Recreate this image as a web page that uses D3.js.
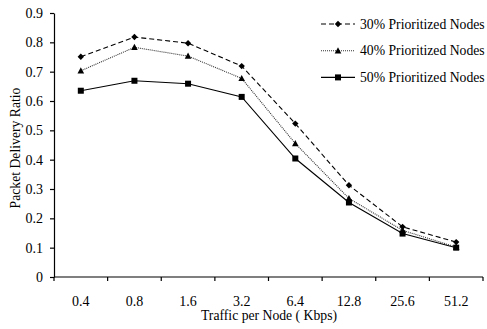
<!DOCTYPE html>
<html>
<head>
<meta charset="utf-8">
<script src="https://cdn.jsdelivr.net/npm/d3@7"></script>
<style>
  html, body { margin: 0; padding: 0; background: #fff; }
  svg { display: block; }
  text { font-family: "Liberation Serif", "Times New Roman", serif; fill: #000; }
</style>
</head>
<body>
<svg id="chart" width="487" height="329"></svg>
<script>
// Traffic load categories (Kbps)
const categories = ["0.4", "0.8", "1.6", "3.2", "6.4", "12.8", "25.6", "51.2"];

// Packet delivery ratio per prioritisation level
const pdr30 = [0.751, 0.818, 0.797, 0.719, 0.523, 0.313, 0.171, 0.119];
const pdr40 = [0.703, 0.783, 0.753, 0.677, 0.455, 0.268, 0.159, 0.102];
const pdr50 = [0.635, 0.669, 0.659, 0.614, 0.404, 0.254, 0.148, 0.100];

const seriesNames = ["30% Prioritized Nodes", "40% Prioritized Nodes", "50% Prioritized Nodes"];
const yTicks = [0, 0.1, 0.2, 0.3, 0.4, 0.5, 0.6, 0.7, 0.8, 0.9];

const series = [
  { name: seriesNames[0], values: pdr30, dash: "5,3", color: "#000", marker: "diamond" },
  { name: seriesNames[1], values: pdr40, dash: "1,1", color: "#333", marker: "triangle" },
  { name: seriesNames[2], values: pdr50, dash: null, color: "#000", marker: "square" }
];

const svg = d3.select("#chart");
const plotL = 54, plotR = 483, plotT = 13, plotB = 277;

const x = d3.scaleBand().domain(categories).range([plotL, plotR]).paddingInner(0).paddingOuter(0);
const y = d3.scaleLinear().domain([0, 0.9]).range([plotB, plotT]);

// Y axis
const yAxis = svg.append("g")
  .attr("transform", `translate(${plotL},0)`)
  .call(d3.axisLeft(y).tickValues(yTicks).tickSize(4).tickSizeOuter(0)
    .tickFormat(d => d === 0 ? "0" : d3.format(".1f")(d)));
yAxis.selectAll("path, line").attr("stroke", "#000").attr("stroke-width", 1.2);
yAxis.selectAll("text").attr("font-size", 14).attr("font-family", "Liberation Serif").attr("x", -11);

// X axis: tick marks at category boundaries, labels centred in each band
const bounds = categories.map(c => x(c)).concat([x(categories[categories.length - 1]) + x.bandwidth()]);
const xAxis = svg.append("g");
xAxis.append("line")
  .attr("x1", plotL).attr("x2", plotR).attr("y1", plotB).attr("y2", plotB)
  .attr("stroke", "#000").attr("stroke-width", 1.2);
xAxis.selectAll("line.tick").data(bounds).join("line")
  .attr("class", "tick")
  .attr("x1", d => d).attr("x2", d => d)
  .attr("y1", plotB).attr("y2", plotB + 4)
  .attr("stroke", "#000").attr("stroke-width", 1.2);
xAxis.selectAll("text").data(categories).join("text")
  .attr("x", d => x(d) + x.bandwidth() / 2)
  .attr("y", 306)
  .attr("text-anchor", "middle")
  .attr("font-size", 14)
  .text(d => d);

// Axis titles
svg.append("text")
  .attr("x", 269).attr("y", 320)
  .attr("text-anchor", "middle")
  .attr("font-size", 13.7)
  .text("Traffic per Node ( Kbps)");
svg.append("text")
  .attr("transform", "translate(20,148) rotate(-90)")
  .attr("text-anchor", "middle")
  .attr("font-size", 13.7)
  .text("Packet Delivery Ratio");

// Marker shapes
function marker(g, type, cx, cy, color) {
  if (type === "diamond") {
    g.append("path").attr("d", `M${cx},${cy - 3.2}L${cx + 3.2},${cy}L${cx},${cy + 3.2}L${cx - 3.2},${cy}Z`).attr("fill", color);
  } else if (type === "triangle") {
    g.append("path").attr("d", `M${cx},${cy - 3.5}L${cx + 3.3},${cy + 2.7}L${cx - 3.3},${cy + 2.7}Z`).attr("fill", "#000");
  } else {
    g.append("rect").attr("x", cx - 3).attr("y", cy - 3).attr("width", 6).attr("height", 6).attr("fill", color);
  }
}

const cx = d => x(d) + x.bandwidth() / 2;
const line = d3.line().x((d, i) => cx(categories[i])).y(d => y(d));

series.forEach(s => {
  const g = svg.append("g");
  g.append("path")
    .datum(s.values)
    .attr("d", line)
    .attr("fill", "none")
    .attr("stroke", s.color)
    .attr("stroke-width", 1.1)
    .attr("stroke-dasharray", s.dash);
  s.values.forEach((v, i) => marker(g, s.marker, cx(categories[i]), y(v), "#000"));
});

// Legend
const legend = svg.append("g");
series.forEach((s, i) => {
  const ly = 24 + i * 26.7;
  legend.append("line")
    .attr("x1", 321).attr("x2", 355).attr("y1", ly).attr("y2", ly)
    .attr("stroke", s.color).attr("stroke-width", 1.1)
    .attr("stroke-dasharray", s.dash);
  marker(legend, s.marker, 338, ly, "#000");
  legend.append("text")
    .attr("x", 360).attr("y", ly + 4.5)
    .attr("font-size", 13.7)
    .text(s.name);
});
</script>
</body>
</html>
